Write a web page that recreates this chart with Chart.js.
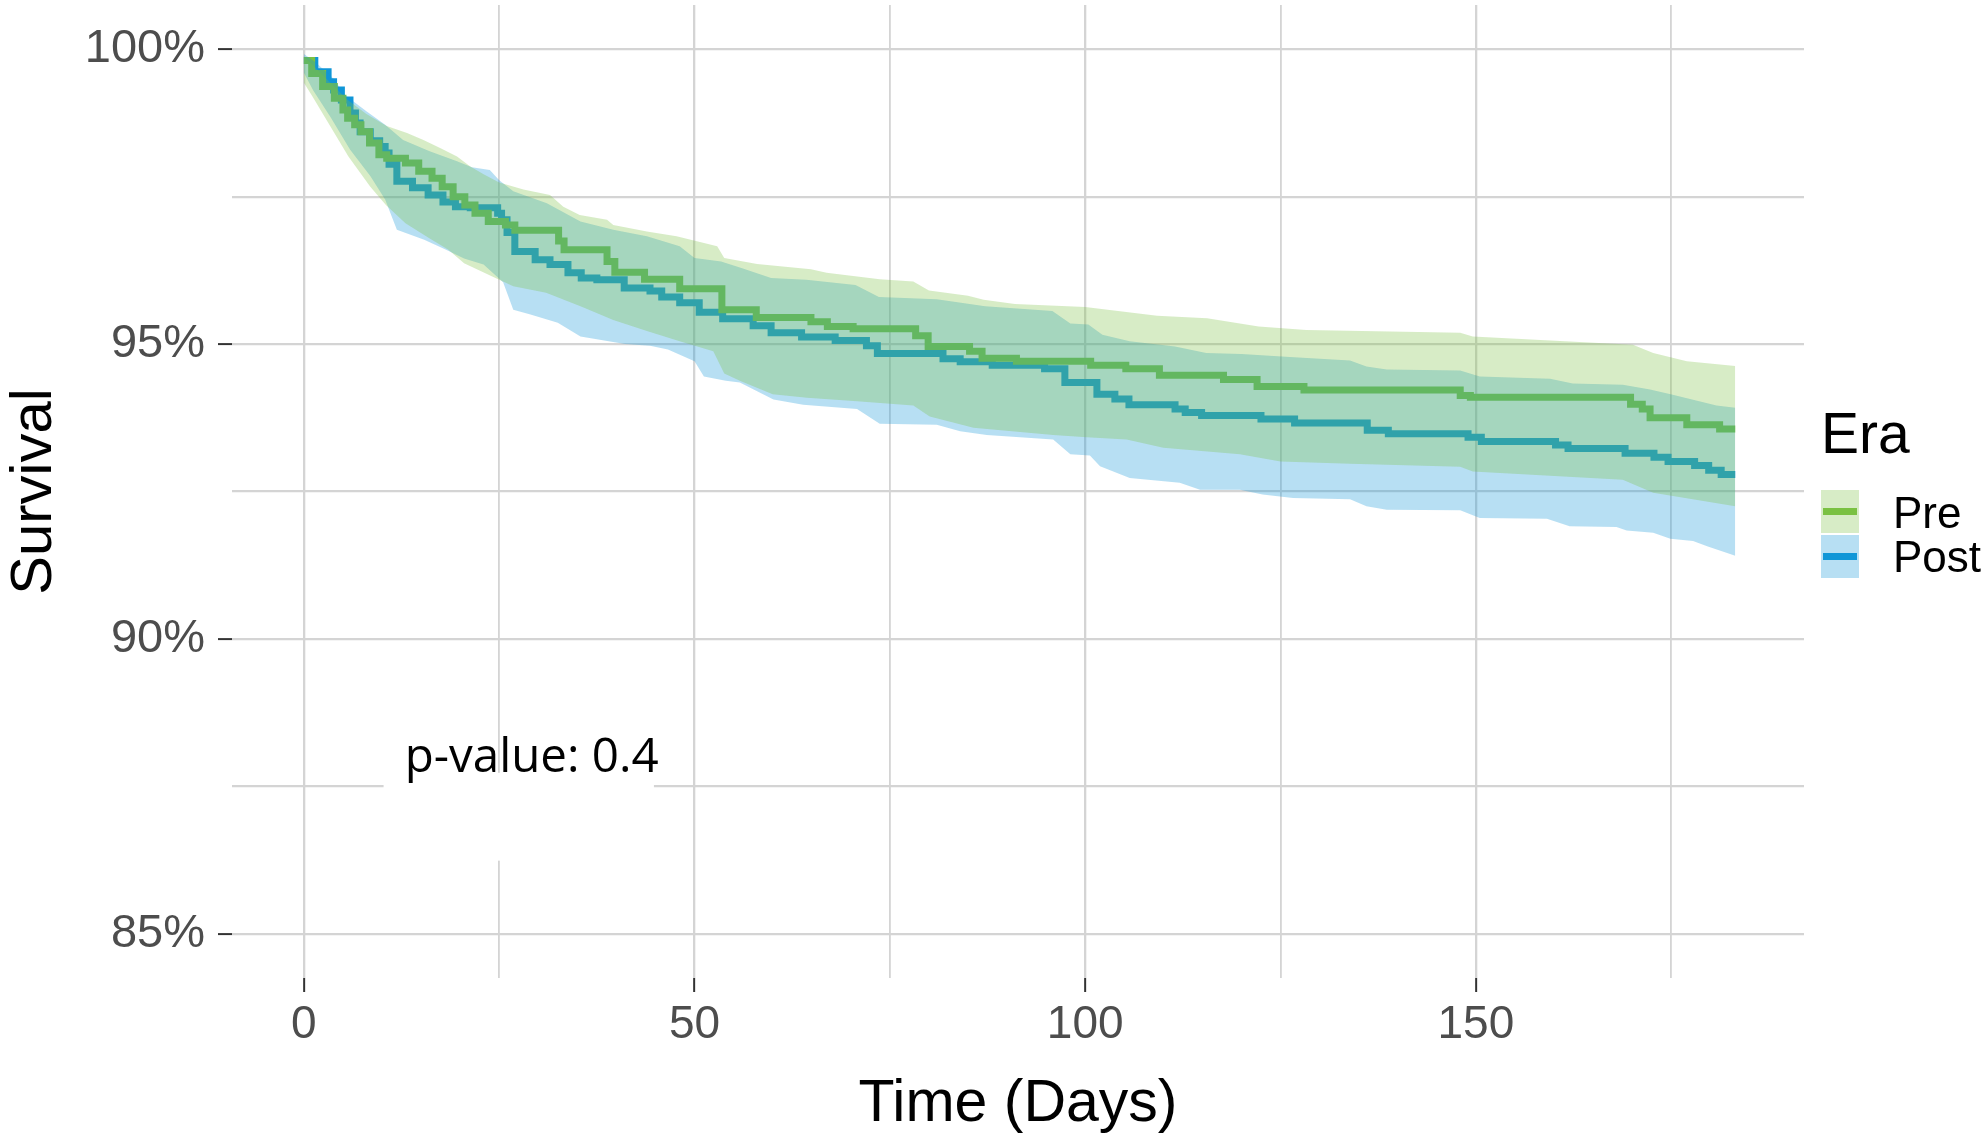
<!DOCTYPE html>
<html>
<head>
<meta charset="utf-8">
<script src="https://cdn.jsdelivr.net/npm/chart.js@4.4.1/dist/chart.umd.min.js"></script>
<style>
html,body{margin:0;padding:0;background:#ffffff;overflow:hidden;}
#wrap{width:1985px;height:1134px;position:relative;}
</style>
</head>
<body>
<div id="wrap"><canvas id="c" width="1985" height="1134"></canvas></div>
<script>
// ---------------- data ----------------
const seriesNames = ['Pre', 'Post'];
const legendTitle = 'Era';
const xTitle = 'Time (Days)';
const yTitle = 'Survival';
const pValueText = 'p-value: 0.4';

// Kaplan-Meier step estimates (day of step, survival % after the step)
const preDays = [0,1.0,2.4,3.9,5.0,5.6,6.5,7.3,8.4,9.6,10.6,13.0,14.7,16.4,17.7,19.1,20.6,21.9,23.6,25.8,27.0,32.6,33.3,38.8,39.8,43.6,48.1,53.5,57.9,64.9,67.0,70.3,78.3,79.9,85.2,86.8,91.2,100.7,105.2,109.5,117.7,122.0,128.0,148.0,149.3,169.8,171.3,172.3,177.0,181.2,183.2];
const preSurv = [99.81,99.59,99.37,99.17,98.97,98.83,98.72,98.60,98.41,98.21,98.15,98.07,97.93,97.81,97.67,97.50,97.36,97.22,97.08,97.02,96.93,96.75,96.60,96.40,96.22,96.10,95.94,95.58,95.45,95.38,95.30,95.26,95.14,94.96,94.88,94.76,94.71,94.64,94.58,94.47,94.40,94.28,94.22,94.13,94.10,93.98,93.90,93.75,93.63,93.56,93.56];

const postDays = [0,1.4,3.1,3.8,4.8,5.9,6.6,7.2,8.5,9.7,10.4,10.9,11.9,13.9,15.9,17.8,19.4,21.3,24.8,25.3,26.0,27.0,29.6,31.5,33.8,35.5,37.5,41.0,44.3,45.8,48.1,50.6,53.6,57.5,59.8,63.7,68.0,72.0,73.4,81.8,84.0,88.1,94.8,97.4,101.5,103.8,105.6,111.5,112.8,114.9,122.5,126.8,136.1,138.8,149.0,150.7,160.2,161.8,169.1,172.8,174.6,178.0,179.8,181.4,183.2];
const postSurv = [99.81,99.62,99.45,99.31,99.14,98.92,98.75,98.60,98.45,98.35,98.24,98.05,97.76,97.65,97.53,97.41,97.33,97.31,97.22,97.11,96.89,96.57,96.43,96.35,96.21,96.12,96.09,95.95,95.90,95.80,95.70,95.54,95.43,95.31,95.19,95.12,95.06,94.97,94.84,94.75,94.70,94.64,94.58,94.35,94.15,94.07,93.97,93.90,93.84,93.79,93.73,93.66,93.54,93.48,93.42,93.35,93.29,93.23,93.15,93.08,93.01,92.94,92.86,92.79,92.79];

// confidence band edges
const preUpperDays = [0,1.5,3.5,5.5,8.0,10.6,13.2,15.3,17.5,19.6,21.3,23.0,25.0,28.1,31.5,33.2,35.3,38.8,39.6,43.9,47.7,52.9,53.8,58.0,64.9,66.9,73.7,78.0,80.0,85.0,87.0,91.0,100.0,109.2,115.6,122.2,128.3,148.0,149.6,170.1,172.7,177.0,183.2];
const preUpper = [99.88,99.68,99.42,99.15,98.90,98.70,98.58,98.46,98.32,98.18,98.01,97.88,97.74,97.62,97.53,97.33,97.19,97.11,97.02,96.91,96.83,96.66,96.46,96.36,96.27,96.21,96.10,96.06,95.91,95.82,95.75,95.68,95.63,95.48,95.44,95.30,95.24,95.19,95.13,94.99,94.85,94.71,94.63];
const preLowerDays = [0,1.1,3.4,5.7,8.5,10.5,13.0,16.0,18.5,20.5,25.0,26.8,31.0,35.4,39.6,43.9,48.1,52.4,53.8,55.8,60.0,64.4,70.8,78.0,80.1,85.7,95.9,100.2,105.3,110.0,119.8,125.0,133.9,148.0,149.6,168.8,172.7,183.2];
const preLower = [99.43,99.20,98.69,98.18,97.67,97.36,97.05,96.80,96.60,96.37,96.09,95.98,95.87,95.64,95.41,95.22,95.05,94.88,94.50,94.38,94.15,94.09,94.03,93.96,93.77,93.58,93.46,93.42,93.38,93.24,93.13,93.01,92.97,92.92,92.84,92.70,92.48,92.25];

const postUpperDays = [0,1.5,3.8,5.3,8.0,10.4,12.7,16.1,19.6,21.5,23.8,25.0,26.8,31.1,35.4,39.6,43.9,48.1,50.0,53.4,56.0,59.8,64.3,70.6,73.6,81.0,87.2,95.8,98.1,100.4,102.2,105.7,111.5,115.5,120.0,126.2,133.9,136.0,138.6,148.0,150.5,159.5,162.4,168.8,172.3,175.2,180.8,183.2];
const postUpper = [99.92,99.78,99.50,99.22,98.95,98.72,98.46,98.27,98.10,98.00,97.95,97.78,97.59,97.39,97.08,96.94,96.83,96.66,96.46,96.40,96.29,96.12,96.09,96.00,95.80,95.76,95.64,95.56,95.35,95.33,95.16,95.05,94.96,94.85,94.83,94.78,94.72,94.62,94.57,94.55,94.45,94.41,94.33,94.31,94.23,94.14,93.96,93.92];
const postLowerDays = [0,1.2,3.4,5.9,8.5,10.4,11.9,15.4,18.2,20.5,23.0,25.5,26.8,29.0,32.5,35.4,41.1,44.3,46.6,50.0,51.2,54.0,55.8,60.1,63.9,70.8,73.7,81.0,84.0,87.4,95.9,98.1,100.6,101.9,105.7,112.1,114.7,119.8,122.7,126.6,133.9,136.0,138.6,148.0,150.5,159.1,162.0,168.0,169.3,172.7,174.9,177.8,179.6,183.2];
const postLower = [99.60,99.30,98.85,98.30,97.85,97.45,96.94,96.77,96.60,96.45,96.35,96.05,95.58,95.50,95.36,95.13,95.00,94.97,94.91,94.71,94.45,94.38,94.35,94.06,93.97,93.90,93.65,93.63,93.52,93.46,93.38,93.13,93.11,92.93,92.73,92.65,92.53,92.53,92.45,92.39,92.37,92.25,92.19,92.18,92.05,92.04,91.91,91.90,91.84,91.80,91.70,91.66,91.57,91.41];

// axis ticks
const xTickStep = 25;      // gridlines every 25 days, labels every 50
const xLabelStep = 50;
const yTickStep = 2.5;     // gridlines every 2.5 %, labels every 5 %
const yLabelStep = 5;

// ---------------- styles ----------------
const FONT = "'Liberation Sans', Arial, Helvetica, sans-serif";
const preColor = 'rgb(122,193,66)';
const postColor = 'rgb(16,150,215)';
const preBand = 'rgba(122,193,66,0.3)';
const postBand = 'rgba(16,150,215,0.3)';
const lineColors = [preColor, postColor];
const bandColors = [preBand, postBand];
const gridColor = '#d4d4d4';
const tickColor = '#333333';

const pts = (xs, ys) => xs.map((x, i) => ({x: x, y: ys[i]}));
const isMult = (v, s) => Math.abs(v / s - Math.round(v / s)) < 1e-6;

const bandBase = {pointRadius: 0, pointHitRadius: 0, tension: 0, borderWidth: 0, borderColor: 'transparent'};
const lineBase = {pointRadius: 0, pointHitRadius: 0, tension: 0, stepped: 'before', borderWidth: 7,
                  borderCapStyle: 'butt', borderJoinStyle: 'miter', fill: false};

const datasets = [
  Object.assign({label: 'Pre upper', data: pts(preUpperDays, preUpper), backgroundColor: preBand,
                 fill: {target: 1}, order: 0}, bandBase),
  Object.assign({label: 'Pre lower', data: pts(preLowerDays, preLower), backgroundColor: preBand,
                 fill: false, order: 0}, bandBase),
  Object.assign({label: 'Post upper', data: pts(postUpperDays, postUpper), backgroundColor: postBand,
                 fill: {target: 3}, order: 1}, bandBase),
  Object.assign({label: 'Post lower', data: pts(postLowerDays, postLower), backgroundColor: postBand,
                 fill: false, order: 1}, bandBase),
  Object.assign({label: seriesNames[0], data: pts(preDays, preSurv), borderColor: preColor, order: 2}, lineBase),
  Object.assign({label: seriesNames[1], data: pts(postDays, postSurv), borderColor: postColor, order: 3}, lineBase)
];

// annotation (p-value) placed in data coordinates
const pValuePos = {x: 12.9, y: 87.75};
const pValueBox = {x0: 10.2, x1: 44.8, y0: 87.73, y1: 86.24};

const annotationPlugin = {
  id: 'pvalue',
  beforeDatasetsDraw(chart) {
    const ctx = chart.ctx, xs = chart.scales.x, ys = chart.scales.y;
    ctx.save();
    const bx0 = xs.getPixelForValue(pValueBox.x0), bx1 = xs.getPixelForValue(pValueBox.x1);
    const by0 = ys.getPixelForValue(pValueBox.y0), by1 = ys.getPixelForValue(pValueBox.y1);
    ctx.fillStyle = '#ffffff';
    ctx.fillRect(bx0, by0, bx1 - bx0, by1 - by0);
    ctx.fillStyle = '#000000';
    ctx.font = "47.5px 'Open Sans', sans-serif";
    ctx.textAlign = 'left';
    ctx.textBaseline = 'alphabetic';
    ctx.fillText(pValueText, xs.getPixelForValue(pValuePos.x), ys.getPixelForValue(pValuePos.y));
    ctx.restore();
  }
};

const legendPlugin = {
  id: 'eraLegend',
  afterDraw(chart) {
    const ctx = chart.ctx;
    const left = chart.chartArea.right + 17;
    ctx.save();
    ctx.textAlign = 'left';
    ctx.textBaseline = 'alphabetic';
    ctx.fillStyle = '#000000';
    ctx.font = '57px ' + FONT;
    ctx.fillText(legendTitle, left, 453);
    seriesNames.forEach((name, i) => {
      const top = 490 + i * 45;
      ctx.fillStyle = '#ffffff';
      ctx.fillRect(left, top, 38, 43);
      ctx.fillStyle = bandColors[i];
      ctx.fillRect(left, top, 38, 43);
      ctx.strokeStyle = lineColors[i];
      ctx.lineWidth = 7;
      ctx.beginPath();
      ctx.moveTo(left + 2, top + 21.5);
      ctx.lineTo(left + 36, top + 21.5);
      ctx.stroke();
      ctx.fillStyle = '#000000';
      ctx.font = '44px ' + FONT;
      ctx.fillText(name, left + 72, 528 + i * 44);
    });
    ctx.restore();
  }
};

new Chart(document.getElementById('c'), {
  type: 'line',
  data: {datasets: datasets},
  plugins: [annotationPlugin, legendPlugin],
  options: {
    responsive: false,
    animation: false,
    devicePixelRatio: 1,
    layout: {padding: {left: 0, top: 5, right: 181, bottom: 0}},
    plugins: {
      legend: {display: false},
      tooltip: {enabled: false},
      filler: {propagate: false}
    },
    scales: {
      x: {
        type: 'linear',
        min: -9.2,
        max: 192,
        border: {display: false},
        ticks: {
          stepSize: xTickStep,
          includeBounds: false,
          autoSkip: false,
          maxRotation: 0,
          padding: 6,
          color: '#4d4d4d',
          font: {family: FONT, size: 46},
          callback: v => (isMult(v, xLabelStep) ? String(v) : '')
        },
        grid: {
          color: gridColor,
          lineWidth: c => (c.tick && isMult(c.tick.value, xLabelStep) ? 2.3 : 1.8),
          drawTicks: true,
          tickLength: 14,
          tickWidth: 2,
          tickColor: c => (c.tick && isMult(c.tick.value, xLabelStep) ? tickColor : 'rgba(0,0,0,0)')
        },
        title: {display: true, text: xTitle, color: '#000000',
                font: {family: FONT, size: 59, lineHeight: 1.0}, padding: 0},
        afterFit: s => { s.height = 156; s.paddingLeft = 0; s.paddingRight = 0; }
      },
      y: {
        type: 'linear',
        min: 84.25,
        max: 100.75,
        border: {display: false},
        ticks: {
          stepSize: yTickStep,
          includeBounds: false,
          autoSkip: false,
          padding: 13,
          color: '#4d4d4d',
          font: {family: FONT, size: 47},
          callback: v => (isMult(v, yLabelStep) ? Math.round(v) + '%' : '')
        },
        grid: {
          color: gridColor,
          lineWidth: 2.2,
          drawTicks: true,
          tickLength: 14,
          tickWidth: 2,
          tickColor: c => (c.tick && isMult(c.tick.value, yLabelStep) ? tickColor : 'rgba(0,0,0,0)')
        },
        title: {display: true, text: yTitle, color: '#000000',
                font: {family: FONT, size: 58, lineHeight: 1.2}, padding: 0},
        afterFit: s => { s.width = 232; s.paddingTop = 0; s.paddingBottom = 0; }
      }
    }
  }
});
</script>
</body>
</html>
